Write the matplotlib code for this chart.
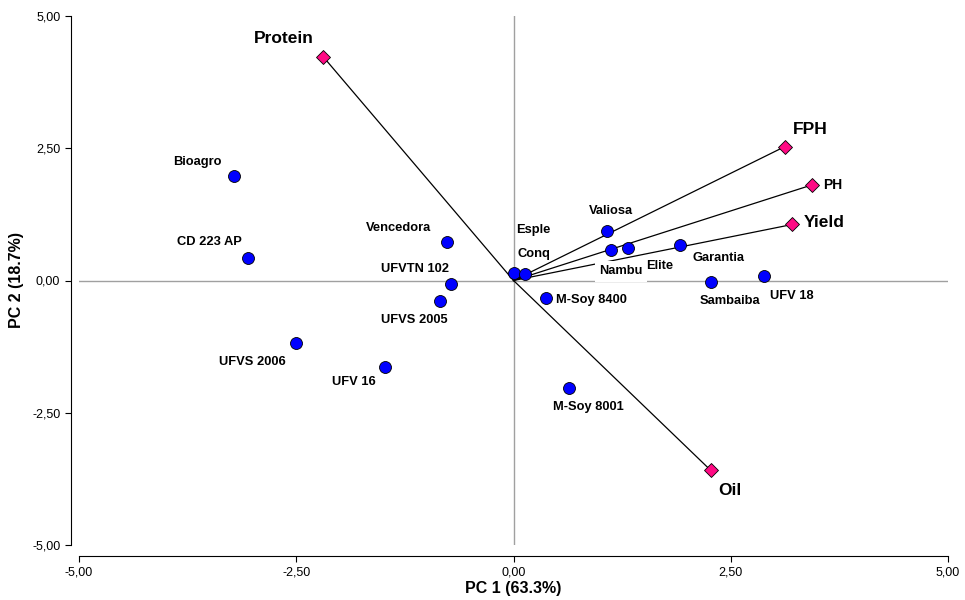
import matplotlib.pyplot as plt

plt.rcParams['font.family'] = ['Liberation Sans', 'DejaVu Sans']

# genotype scores (PC1, PC2)
genotypes = ['Bioagro', 'CD 223 AP', 'UFVS 2006', 'UFV 16', 'Vencedora',
             'UFVTN 102', 'UFVS 2005', 'Esple', 'Conq', 'M-Soy 8400',
             'M-Soy 8001', 'Valiosa', 'Nambu', 'Elite', 'Garantia',
             'Sambaiba', 'UFV 18']
pc1 = [-3.22, -3.05, -2.50, -1.48, -0.76, -0.72, -0.85, 0.01, 0.13, 0.37,
       0.64, 1.07, 1.12, 1.32, 1.91, 2.27, 2.88]
pc2 = [1.98, 0.42, -1.19, -1.63, 0.72, -0.06, -0.38, 0.15, 0.13, -0.34,
       -2.04, 0.93, 0.57, 0.62, 0.68, -0.02, 0.09]

# trait loadings (vectors from origin)
traits = ['Protein', 'FPH', 'PH', 'Yield', 'Oil']
trait_x = [-2.19, 3.12, 3.44, 3.21, 2.27]
trait_y = [4.23, 2.53, 1.81, 1.06, -3.59]

# label offsets in pixels (dx, dy, ha)
geno_off = {
    'Bioagro': (-36, 14, 'center'), 'CD 223 AP': (-39, 16, 'center'),
    'UFVS 2006': (-44, -19, 'center'), 'UFV 16': (-31, -15, 'center'),
    'Vencedora': (-49, 14, 'center'), 'UFVTN 102': (-36, 15, 'center'),
    'UFVS 2005': (-25, -19, 'center'), 'Esple': (19, 43, 'center'),
    'Conq': (9, 20, 'center'), 'M-Soy 8400': (10, -2, 'left'),
    'M-Soy 8001': (19, -19, 'center'), 'Valiosa': (4, 20, 'center'),
    'Nambu': (10, -21, 'center'), 'Elite': (31, -18, 'center'),
    'Garantia': (39, -13, 'center'), 'Sambaiba': (19, -19, 'center'),
    'UFV 18': (28, -20, 'center'),
}
trait_off = {
    'Protein': (-39, 18, 'center', 12.5), 'FPH': (26, 17, 'center', 12.5),
    'PH': (11, 0, 'left', 10), 'Yield': (11, 2, 'left', 12.5),
    'Oil': (19, -20, 'center', 12.5),
}

fig = plt.figure(figsize=(9.65, 6.0), dpi=100)
ax = fig.add_axes([0.0819, 0.0917, 0.9005, 0.8816])

ax.axhline(0, color='#a0a0a0', lw=1, zorder=1)
ax.axvline(0, color='#a0a0a0', lw=1, zorder=1)

for tx, ty in zip(trait_x, trait_y):
    ax.plot([0, tx], [0, ty], color='black', lw=0.9, zorder=2)

ax.plot(pc1, pc2, 'o', ms=8.6, mfc='#0000ff', mec='black', mew=0.6,
        ls='none', zorder=4)
ax.plot(trait_x, trait_y, 'D', ms=7, mfc='#ff0a84', mec='black', mew=0.6,
        ls='none', zorder=4)

for name, x, y in zip(genotypes, pc1, pc2):
    dx, dy, ha = geno_off[name]
    kw = {}
    if name == 'Nambu':
        kw['bbox'] = dict(boxstyle='square,pad=0.35', facecolor='white',
                          edgecolor='none')
    ax.annotate(name, (x, y), xytext=(dx, dy), textcoords='offset pixels',
                ha=ha, va='center', fontsize=9.3, fontweight='bold',
                zorder=5, **kw)

for name, x, y in zip(traits, trait_x, trait_y):
    dx, dy, ha, fs = trait_off[name]
    ax.annotate(name, (x, y), xytext=(dx, dy), textcoords='offset pixels',
                ha=ha, va='center', fontsize=fs, fontweight='bold', zorder=5)

ax.set_xlim(-5, 5)
ax.set_ylim(-5, 5)
ticks = [-5, -2.5, 0, 2.5, 5]
tick_labels = ['-5,00', '-2,50', '0,00', '2,50', '5,00']
ax.set_xticks(ticks)
ax.set_xticklabels(tick_labels)
ax.set_yticks(ticks)
ax.set_yticklabels(tick_labels)
ax.tick_params(labelsize=9, length=4, width=0.8)

ax.spines['top'].set_visible(False)
ax.spines['right'].set_visible(False)
ax.spines['left'].set_position(('outward', 6))
ax.spines['bottom'].set_position(('outward', 8))

ax.set_xlabel('PC 1 (63.3%)', fontsize=11.5, fontweight='bold', labelpad=2)
ax.set_ylabel('PC 2 (18.7%)', fontsize=11.5, fontweight='bold', labelpad=6)

fig.savefig('out.png', dpi=100)
